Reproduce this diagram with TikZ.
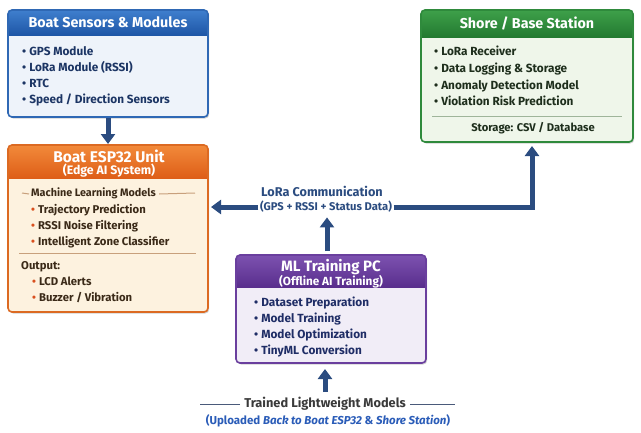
\documentclass[tikz,border=0pt]{standalone}
\usepackage{fontspec}
\setmainfont{Fira Sans}
\usetikzlibrary{arrows.meta,shadows}

% palette
\definecolor{bluebd}{HTML}{2F68B4}
\definecolor{bluebg}{HTML}{EEF3FA}
\definecolor{bluehi}{HTML}{3F7FCE}
\definecolor{bluehd}{HTML}{1E56A6}
\definecolor{bluetx}{HTML}{1C3564}
\definecolor{orangebd}{HTML}{DC6A22}
\definecolor{orangebg}{HTML}{FDF2DF}
\definecolor{orangehi}{HTML}{F28A3A}
\definecolor{orangehd}{HTML}{DE5E18}
\definecolor{orangetx}{HTML}{3B2A18}
\definecolor{orangebul}{HTML}{D9501F}
\definecolor{orangerule}{HTML}{C8A07C}
\definecolor{greenbd}{HTML}{2F8A3C}
\definecolor{greenbg}{HTML}{EFF6EA}
\definecolor{greenhi}{HTML}{3EA04A}
\definecolor{greenhd}{HTML}{237A30}
\definecolor{greentx}{HTML}{1E2E1C}
\definecolor{greenrule}{HTML}{9FB59A}
\definecolor{purplebd}{HTML}{6A3F9E}
\definecolor{purplebg}{HTML}{F1EDF7}
\definecolor{purplehi}{HTML}{7D52B0}
\definecolor{purplehd}{HTML}{592E8D}
\definecolor{purpletx}{HTML}{1F2D66}
\definecolor{flowcol}{HTML}{2B4C80}
\definecolor{uploadcol}{HTML}{2A5CB8}
\definecolor{graytx}{HTML}{3A3A3A}
\definecolor{grayrule}{HTML}{4A5A7A}

\newcommand\bul[1]{{\color{#1}\textbullet}\hspace{3pt}}
\newcommand\fs[1]{\bfseries\fontsize{#1}{#1}\selectfont}

% rounded panel with a shaded header band
\newcommand\drawpanel[7]{%
  \node[panel, fill=#7bg, minimum width=#4pt, minimum height=#5pt] (#1) at (#2,#3) {};
  \begin{scope}
    \clip[rounded corners=4pt] (#1.north west) rectangle (#1.south east);
    \shade[top color=#7hi, bottom color=#7hd] (#1.north west) rectangle ([yshift=-#6pt]#1.north east);
  \end{scope}
  \draw[#7bd, line width=1.6pt, rounded corners=4pt] (#1.north west) rectangle (#1.south east);
}

\begin{document}
\begin{tikzpicture}[x=1pt,y=-1pt,
  panel/.style={anchor=north west, inner sep=0pt, outer sep=0pt, rounded corners=4pt,
    drop shadow={shadow xshift=1.2pt, shadow yshift=-1.5pt, opacity=.3, fill=black!60}},
  title/.style={text=white, font=\fs{14.3}, inner sep=0pt},
  subtitle/.style={text=white, font=\fs{12.3}, inner sep=0pt},
  item/.style={anchor=west, inner sep=0pt, text height=8.5pt, text depth=2.8pt, font=\fs{11.8}},
  flow/.style={draw=flowcol, line width=5pt, -{Triangle[width=14pt,length=10pt]}},
]
\useasboundingbox (0,0) rectangle (641,432);
\fill[white] (0,0) rectangle (641,432);

% ---- Boat sensors & modules ----
\drawpanel{sens}{8}{10}{200}{107}{25}{blue}
\node[title] (sensT) at ([yshift=-12.5pt]sens.north) {Boat Sensors \& Modules};
\foreach \t [count=\i] in {GPS Module, LoRa Module (RSSI), RTC, Speed / Direction Sensors}
  \node[item, text=bluetx] (sens-\i) at (22,{53+16*(\i-1)}) {\bul{bluetx}\t};

% ---- Boat ESP32 unit ----
\drawpanel{esp}{8}{145}{200}{167}{33}{orange}
\node[title, font=\fs{15.5}] (espT) at (109,156) {Boat ESP32 Unit};
\node[subtitle] (espS) at (109,171) {(Edge AI System)};
\node[item, text=orangetx, font=\fs{10.8}] (mlT) at (31,194) {Machine Learning Models};
\draw[orangerule, line width=1pt] (22,193) -- ([xshift=-2pt]mlT.west);
\draw[orangerule, line width=1pt] ([xshift=3pt]mlT.east) -- (195,193);
\foreach \t [count=\i] in {Trajectory Prediction, RSSI Noise Filtering, Intelligent Zone Classifier}
  \node[item, text=orangetx, font=\fs{11.3}] (ml-\i) at (31,{210.5+16.3*(\i-1)}) {\bul{orangebul}\t};
\draw[orangerule, line width=1pt] (19,253) -- (196,253);
\node[item, text=orangetx, font=\fs{11.3}] (outT) at (21,267) {Output:};
\foreach \t [count=\i] in {LCD Alerts, Buzzer / Vibration}
  \node[item, text=orangetx, font=\fs{11.3}] (out-\i) at (32,{283+15.5*(\i-1)}) {\bul{orangebul}\t};

% ---- Shore / base station ----
\drawpanel{shore}{421}{10}{212}{132}{27}{green}
\node[title] (shoreT) at ([yshift=-13.5pt]shore.north) {Shore / Base Station};
\foreach \t [count=\i] in {LoRa Receiver, Data Logging \& Storage, Anomaly Detection Model, Violation Risk Prediction}
  \node[item, text=greentx] (shore-\i) at (434,{53+16.7*(\i-1)}) {\bul{greentx}\t};
\draw[greenrule, line width=1pt] (432,116) -- (622,116);
\node[item, anchor=center, text=greentx, font=\fs{11.2}] (store) at (533,129) {Storage: CSV / Database};

% ---- ML training PC ----
\drawpanel{train}{236}{255}{190}{108}{32}{purple}
\node[title, font=\fs{15}] (trainT) at ([yshift=-12pt]train.north) {ML Training PC};
\node[subtitle, font=\fs{11.8}] (trainS) at ([yshift=-26.5pt]train.north) {(Offline AI Training)};
\foreach \t [count=\i] in {Dataset Preparation, Model Training, Model Optimization, TinyML Conversion}
  \node[item, text=purpletx] (train-\i) at (254,{304+16*(\i-1)}) {\bul{purpletx}\t};

% ---- LoRa link ----
\node[inner sep=0pt, text=flowcol, font=\fs{12.7}] (loraT) at (322,191) {LoRa Communication};
\node[inner sep=1.5pt, text=flowcol, font=\fs{11.2}] (loraS) at (326,207) {(GPS + RSSI + Status Data)};

% ---- connectors ----
\draw[flow, shorten <=1pt, shorten >=1pt] (sens.south) -- (esp.north);
\draw[flow, shorten >=3pt] (loraS.west) -- (loraS.west -| esp.east);
\draw[flow, shorten >=4pt] (loraS.east) -| ([xshift=5pt]shore.south);
\draw[flow, shorten <=4pt, shorten >=3pt] ([xshift=-4pt]train.north) -- ([xshift=-4pt]train.north |- loraS.south);

% ---- trained models footer ----
\node[inner sep=0pt, text=graytx, font=\fs{12.8}] (trained) at (325,404) {Trained Lightweight Models};
\draw[grayrule, line width=1pt] ([xshift=-4pt]trained.west) -- ++(-40,0);
\draw[grayrule, line width=1pt] ([xshift=4pt]trained.east) -- ++(45,0);
\node[inner sep=0pt, text=uploadcol, font=\fs{11.5}] (upload) at (328,421)
  {(Uploaded \textit{Back to Boat ESP32} \& \textit{Shore Station})};
\draw[flow, shorten <=5pt, shorten >=6pt] (trained.north) -- (trained.north |- train.south);
\end{tikzpicture}
\end{document}
